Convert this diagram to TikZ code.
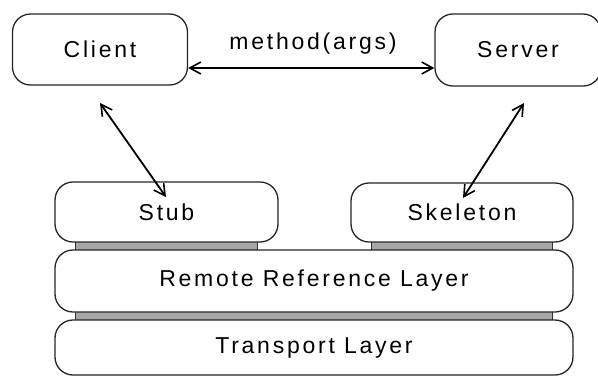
\documentclass[tikz,border=0pt]{standalone}
\usepackage{fontspec}
\setmainfont[LetterSpace=12]{Liberation Sans}
\usetikzlibrary{arrows.meta}
\tikzset{
  box/.style={draw=black!85, line width=1.3pt, rounded corners=18pt, rectangle, inner sep=0pt, font=\fontsize{23}{27}\selectfont},
  conn/.style={line width=1.8pt, {Straight Barb[length=11pt,width=12pt,line width=1.6pt]}-{Straight Barb[length=11pt,width=12pt,line width=1.6pt]}},
  bar/.style={fill=black!35, draw=black!80, line width=0.8pt}
}
\begin{document}
\begin{tikzpicture}[x=1pt,y=-1pt]
\useasboundingbox (0,0) rectangle (598,378);
% gray bars
\path[bar] (75,241) rectangle (257,251);
\path[bar] (371,241) rectangle (552,251);
\path[bar] (75,310) rectangle (552,321);
\node[box, minimum width=175pt, minimum height=71pt] (client) at (100,49.5) {Client};
\node[box, minimum width=166pt, minimum height=72pt] (server) at (518,50) {Server};
\node[box, fill=white, minimum width=223pt, minimum height=60pt] (stub) at (166.5,212) {Stub};
\node[box, fill=white, minimum width=222pt, minimum height=59pt] (skel) at (462,212.5) {Skeleton};
\node[box, fill=white, minimum width=518pt, minimum height=62pt] (remote) at (314,281) {Remote Reference Layer};
\node[box, fill=white, minimum width=518pt, minimum height=55pt] (trans) at (314,347.5) {Transport Layer};
\node[font=\fontsize{23}{27}\selectfont] (method) at (313,44) {method(args)};
\coordinate (c1) at (100,103);
\coordinate (s1) at (166,197);
\coordinate (v1) at (524,103);
\coordinate (k1) at (463,198);
\draw[conn] (client.east |- 0,68) -- (server.west |- 0,68);
\draw[conn] (c1) -- (s1);
\draw[conn] (v1) -- (k1);
\end{tikzpicture}
\end{document}
